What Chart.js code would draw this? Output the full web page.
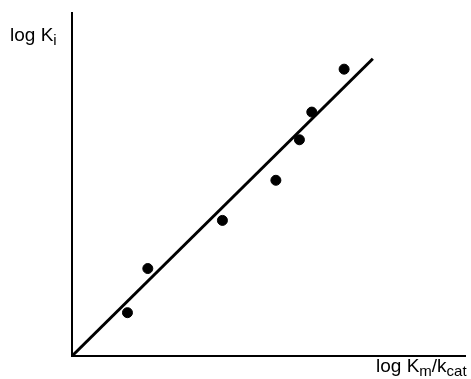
<!DOCTYPE html>
<html>
<head>
<meta charset="utf-8">
<script src="https://cdn.jsdelivr.net/npm/chart.js@4"></script>
<style>
  html, body { margin: 0; padding: 0; background: #fff; }
  .wrap { position: relative; width: 471px; height: 379px; }
  .lbl {
    position: absolute;
    font-family: "Liberation Sans", Arial, sans-serif;
    font-size: 19px;
    line-height: 19px;
    color: #000;
    white-space: nowrap;
  }
  .lbl sub { font-size: 15px; vertical-align: -4px; line-height: 0; }
</style>
</head>
<body>
<div class="wrap">
  <canvas id="chart" width="471" height="379"></canvas>
  <div class="lbl" style="left:10px; top:25px;">log K<sub>i</sub></div>
  <div class="lbl" style="left:376px; top:356px;">log K<sub>m</sub>/k<sub>cat</sub></div>
</div>
<script>
// measured points (arbitrary log units)
const logKmKcat = [1.39, 1.90, 3.77, 5.11, 5.70, 6.01, 6.82];
const logKi = [1.08, 2.18, 3.38, 4.38, 5.39, 6.08, 7.15];

// fitted line end points
const fitX = [0, 7.54];
const fitY = [0, 7.41];

const ctx = document.getElementById("chart").getContext("2d");

new Chart(ctx, {
  type: "scatter",
  data: {
    datasets: [
      {
        label: "fit",
        type: "line",
        data: fitX.map((x, i) => ({ x: x, y: fitY[i] })),
        borderColor: "#000",
        borderWidth: 3,
        pointRadius: 0,
        fill: false,
      },
      {
        label: "data",
        data: logKmKcat.map((x, i) => ({ x: x, y: logKi[i] })),
        backgroundColor: "#000",
        borderColor: "#000",
        pointRadius: 5,
        pointHoverRadius: 5,
      },
    ],
  },
  options: {
    responsive: false,
    animation: false,
    layout: { padding: { left: 64, top: 13, right: 0, bottom: 15 } },
    scales: {
      x: {
        type: "linear",
        min: 0,
        max: 9.85,
        grid: { display: false },
        ticks: { display: false },
        border: { display: true, color: "#000", width: 2 },
      },
      y: {
        type: "linear",
        min: 0,
        max: 8.55,
        grid: { display: false },
        ticks: { display: false },
        border: { display: true, color: "#000", width: 2 },
      },
    },
    plugins: {
      legend: { display: false },
      tooltip: { enabled: false },
    },
  },
});
</script>
</body>
</html>
